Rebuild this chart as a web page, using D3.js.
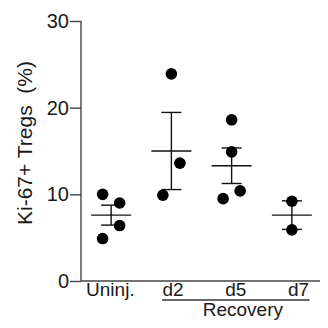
<!DOCTYPE html>
<html>
<head>
<meta charset="utf-8">
<script src="https://cdn.jsdelivr.net/npm/d3@7"></script>
<style>
  body { margin: 0; background: #fff; }
  svg text { font-family: "Liberation Sans", Arial, sans-serif; fill: #1a1a1a; }
</style>
</head>
<body>
<div id="chart"></div>
<script>
// groups on the x axis
const groups = ["Uninj.", "d2", "d5", "d7"];
// individual points per group (% Ki-67+ Tregs)
const uninjValues = [10.0, 9.0, 6.4, 4.9];
const d2Values = [23.9, 13.6, 9.9];
const d5Values = [18.6, 14.9, 10.4, 9.5];
const d7Values = [9.2, 5.9];
// horizontal spread of the points (-1 left, 0 centre, 1 right)
const uninjSpread = [-1, 1, 1, -1];
const d2Spread = [0, 1, -1];
const d5Spread = [0, 0, 1, -1];
const d7Spread = [0, 0];
// mean and SEM as drawn
const means = [7.6, 15.0, 13.3, 7.6];
const sems = [1.15, 4.45, 2.05, 1.65];
const yTicks = [0, 10, 20, 30];

const values = [uninjValues, d2Values, d5Values, d7Values];
const spreads = [uninjSpread, d2Spread, d5Spread, d7Spread];

const width = 328, height = 328;
const svg = d3.select("#chart").append("svg")
    .attr("width", width)
    .attr("height", height);

const x = d3.scaleBand().domain(groups).range([81, 322]);
const xLabel = d3.scaleBand().domain(groups).range([79, 330]);
const y = d3.scaleLinear().domain([0, 30]).range([281, 21]);
const cx = (g) => x(g) + x.bandwidth() / 2;

// y axis
const yAxis = svg.append("g")
    .attr("transform", "translate(81,0)")
    .call(d3.axisLeft(y).tickValues(yTicks).tickSize(11).tickPadding(1).tickFormat(d3.format("d")));
yAxis.selectAll("path, line").attr("stroke", "#444").attr("stroke-width", 1.4);
yAxis.select(".domain").attr("d", `M0,${y(30)}V${y(0)}`);
yAxis.selectAll("text").style("font-size", "20px").attr("fill", "#111");

// x axis line
svg.append("line")
    .attr("x1", 81).attr("x2", 320)
    .attr("y1", y(0)).attr("y2", y(0))
    .attr("stroke", "#444").attr("stroke-width", 1.4);

svg.selectAll(".xlab")
    .data(groups)
    .enter()
    .append("text")
    .attr("class", "xlab")
    .attr("x", (d) => xLabel(d) + xLabel.bandwidth() / 2)
    .attr("y", 296)
    .attr("text-anchor", "middle")
    .style("font-size", "19px")
    .text((d) => d);

// Recovery bracket
const recFirst = xLabel("d2") + xLabel.bandwidth() / 2 - 11;
const recLast = xLabel("d7") + xLabel.bandwidth() / 2 + 11;
svg.append("line")
    .attr("x1", recFirst).attr("x2", recLast)
    .attr("y1", 300).attr("y2", 300)
    .attr("stroke", "#333").attr("stroke-width", 1.4);
svg.append("text")
    .attr("x", (recFirst + recLast) / 2 + 7)
    .attr("y", 316)
    .attr("text-anchor", "middle")
    .style("font-size", "19px")
    .text("Recovery");

// y title
svg.append("text")
    .attr("transform", "translate(32,143) rotate(-90)")
    .attr("text-anchor", "middle")
    .style("font-size", "21px")
    .style("white-space", "pre")
    .text("Ki-67+ Tregs  (%)");

// mean and SEM
const stats = svg.selectAll(".stat")
    .data(groups.map((g, i) => ({ g, mean: means[i], sem: sems[i] })))
    .enter()
    .append("g")
    .attr("class", "stat")
    .attr("stroke", "#111")
    .attr("stroke-width", 1.4);
stats.append("line")
    .attr("x1", (d) => cx(d.g)).attr("x2", (d) => cx(d.g))
    .attr("y1", (d) => y(d.mean + d.sem)).attr("y2", (d) => y(d.mean - d.sem));
stats.append("line")
    .attr("x1", (d) => cx(d.g) - 20).attr("x2", (d) => cx(d.g) + 20)
    .attr("y1", (d) => y(d.mean)).attr("y2", (d) => y(d.mean));
[1, -1].forEach((s) => {
    stats.append("line")
        .attr("x1", (d) => cx(d.g) - 10).attr("x2", (d) => cx(d.g) + 10)
        .attr("y1", (d) => y(d.mean + s * d.sem)).attr("y2", (d) => y(d.mean + s * d.sem));
});

// points
const points = [];
groups.forEach((g, i) => values[i].forEach((v, j) => points.push({ g, v, s: spreads[i][j] })));
svg.selectAll(".dot")
    .data(points)
    .enter()
    .append("circle")
    .attr("class", "dot")
    .attr("cx", (d) => cx(d.g) + d.s * 8.5)
    .attr("cy", (d) => y(d.v))
    .attr("r", 5.8)
    .attr("fill", "#000");
</script>
</body>
</html>
